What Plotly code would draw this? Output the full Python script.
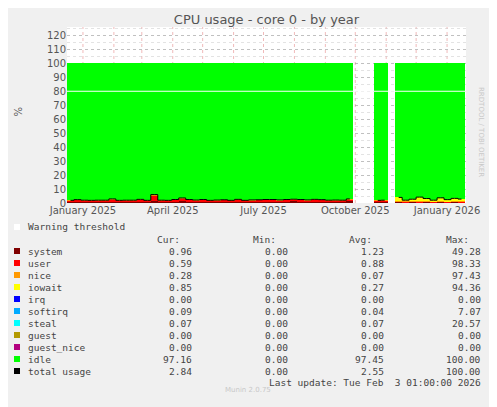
import plotly.graph_objects as go
import pandas as pd

# weekly samples (None = no data)
weeks = pd.date_range("2024-12-16", periods=57, freq="7D")
system = [1.0, 1.1, 1.0, 1.0, 1.0, 1.1, 1.0, 1.0, 1.0, 1.1, 1.0, 1.0, 1.2, 1.0, 1.0, 1.1, 1.2, 1.1, 1.0, 1.0,
          1.0, 1.1, 1.0, 1.0, 1.0, 1.0, 1.1, 1.0, 1.1, 1.0, 1.0, 1.1, 1.1, 1.0, 1.1, 1.0, 1.0, 1.0, 1.0, 1.0,
          1.1, None, None, None, 1.0, 1.0, None, 0.8, 0.7, 0.8, 0.7, 0.8, 0.7, 0.8, 0.7, 0.8, 0.7]
user = [0.8, 1.2, 0.9, 0.8, 0.9, 0.8, 1.8, 0.8, 0.9, 0.8, 1.5, 0.8, 4.5, 0.9, 0.8, 1.2, 2.0, 1.3, 1.0, 1.4,
        0.8, 0.9, 1.2, 0.8, 1.5, 0.8, 1.0, 1.2, 1.3, 1.4, 1.1, 1.3, 1.5, 1.4, 1.0, 1.5, 1.3, 0.9, 1.0, 0.9,
        1.6, None, None, None, 0.8, 0.9, None, 0.5, 0.6, 0.6, 0.5, 0.6, 0.5, 0.6, 0.5, 0.6, 0.6]
nice = [0.1, 0.1, 0.1, 0.1, 0.1, 0.1, 0.1, 0.1, 0.1, 0.1, 0.1, 0.1, 0.3, 0.1, 0.1, 0.2, 0.4, 0.1, 0.1, 0.1,
        0.1, 0.1, 0.1, 0.1, 0.1, 0.1, 0.1, 0.1, 0.1, 0.1, 0.1, 0.1, 0.1, 0.1, 0.1, 0.1, 0.1, 0.1, 0.1, 0.1,
        0.2, None, None, None, 0.1, 0.1, None, 0.2, 0.2, 0.3, 0.2, 0.3, 0.2, 0.3, 0.2, 0.3, 0.3]
iowait = [0.0, 0.0, 0.0, 0.0, 0.0, 0.0, 0.0, 0.0, 0.0, 0.0, 0.0, 0.0, 0.0, 0.0, 0.0, 0.0, 0.0, 0.0, 0.0, 0.0,
          0.0, 0.0, 0.0, 0.0, 0.0, 0.0, 0.0, 0.0, 0.0, 0.0, 0.0, 0.0, 0.0, 0.0, 0.0, 0.0, 0.0, 0.0, 0.0, 0.0,
          0.0, None, None, None, 0.0, 0.0, None, 2.5, 0.5, 1.0, 2.8, 1.5, 0.6, 2.0, 1.0, 1.6, 1.2]
total = [a + b + c + d if a is not None else None for a, b, c, d in zip(system, user, nice, iowait)]
idle = [100 - t if t is not None else None for t in total]

legend_rows = [("system", "#7f0000", "0.96", "0.00", "1.23", "49.28"),
               ("user", "#ff0000", "0.59", "0.00", "0.88", "98.33"),
               ("nice", "#ff9900", "0.28", "0.00", "0.07", "97.43"),
               ("iowait", "#ffff00", "0.85", "0.00", "0.27", "94.36"),
               ("irq", "#0000ff", "0.00", "0.00", "0.00", "0.00"),
               ("softirq", "#00aaff", "0.09", "0.00", "0.04", "7.07"),
               ("steal", "#00ffff", "0.07", "0.00", "0.07", "20.57"),
               ("guest", "#b39900", "0.00", "0.00", "0.00", "0.00"),
               ("guest_nice", "#b3007f", "0.00", "0.00", "0.00", "0.00"),
               ("idle", "#00ff00", "97.16", "0.00", "97.45", "100.00"),
               ("total usage", "#000000", "2.84", "0.00", "2.55", "100.00")]

# page body adds 8px offset, so work in reference pixels minus 8
OFF = 8
W, H = 497 - OFF, 407 - OFF
L, R, T, B = 67 - OFF, 466 - OFF, 27 - OFF, 203 - OFF
def px(x): return (x - OFF - L) / (R - L)
def py(y): return (B - (y - OFF)) / (B - T)

fig = go.Figure()
centers = weeks + pd.Timedelta(days=3.5)
wid = 7 * 86400000
for vals, col in [(system, "#7f0000"), (user, "#ff0000"), (nice, "#ff9900"), (iowait, "#ffff00"), (idle, "#00ff00")]:
    fig.add_trace(go.Bar(x=centers, y=vals, width=wid, marker=dict(color=col, line_width=0), showlegend=False))
fig.add_trace(go.Scatter(x=centers, y=total, mode="lines", line=dict(color="black", width=1, shape="hvh"),
                         connectgaps=False, showlegend=False))
fig.add_shape(type="line", xref="paper", yref="y", x0=0, x1=1, y0=80, y1=80, line=dict(color="white", width=1))

mono = "DejaVu Sans Mono"
ann = []
fs = 9.5
ann.append(dict(x=px(26), y=py(227), text="Warning threshold", xanchor="left"))
for lab, xr in [("Cur:", 182), ("Min:", 278), ("Avg:", 374), ("Max:", 471)]:
    ann.append(dict(x=px(xr), y=py(239), text=lab, xanchor="right"))
shapes = [dict(type="rect", xref="paper", yref="paper", x0=px(14), x1=px(20), y0=py(230), y1=py(224),
               fillcolor="white", line_width=0)]
for i, (name, col, c, mn, av, mx) in enumerate(legend_rows):
    yy = 251 + 12 * i
    shapes.append(dict(type="rect", xref="paper", yref="paper", x0=px(14), x1=px(20), y0=py(yy + 3), y1=py(yy - 3),
                       fillcolor=col, line_width=0))
    ann.append(dict(x=px(26), y=py(yy), text=name, xanchor="left"))
    for v, xr in [(c, 194), (mn, 290), (av, 386), (mx, 483)]:
        ann.append(dict(x=px(xr), y=py(yy), text=v, xanchor="right"))
ann.append(dict(x=px(483), y=py(383), text="Last update: Tue Feb  3 01:00:00 2026", xanchor="right"))
for a in ann:
    a.update(xref="paper", yref="paper", showarrow=False, yanchor="middle", font=dict(family=mono, size=fs, color="#444"))
ann.append(dict(xref="paper", yref="paper", x=px(248), y=py(396), text="Munin 2.0.75", showarrow=False,
                font=dict(family="DejaVu Sans", size=7, color="#c8c8c8")))
ann.append(dict(xref="paper", yref="paper", x=px(487), y=py(85), text="RRDTOOL / TOBI OETIKER", showarrow=False,
                textangle=90, font=dict(family="DejaVu Sans", size=7, color="#c8c8c8")))
ann.append(dict(xref="paper", yref="paper", x=px(10), y=py(112), text="%", showarrow=False, textangle=-90,
                font=dict(family="DejaVu Sans", size=10, color="#555")))
for s in shapes:
    fig.add_shape(**s)

fig.update_layout(
    width=W, height=H, margin=dict(l=L, r=W - R, t=T, b=H - B, autoexpand=False),
    paper_bgcolor="#f0f0f0", plot_bgcolor="white", barmode="stack", bargap=0,
    title=dict(text="CPU usage - core 0 - by year", x=0.5, xref="paper", y=1 - (19 - OFF) / H, yanchor="middle",
               font=dict(family="DejaVu Sans", size=13, color="#555")),
    annotations=ann,
)
fig.update_xaxes(range=["2024-12-16", "2026-01-20"], showgrid=False, tickmode="array",
                 tickvals=["2025-01-01", "2025-04-01", "2025-07-01", "2025-10-01", "2026-01-01"],
                 ticktext=["January 2025", "April 2025", "July 2025", "October 2025", "January 2026"],
                 tickfont=dict(family="DejaVu Sans", size=10, color="#555"), showline=False, zeroline=False, ticks="")
fig.update_yaxes(range=[0, 126], dtick=10, showgrid=True, gridcolor="rgba(150,150,150,0.6)", griddash="dot",
                 tickfont=dict(family="DejaVu Sans", size=10, color="#555"), zeroline=False,
                 minor=dict(dtick=5, showgrid=True, gridcolor="rgba(200,200,200,0.5)", griddash="dot"))
# monthly red grid lines
months = pd.date_range("2025-01-01", "2026-01-01", freq="MS")
for m in months:
    fig.add_shape(type="line", xref="x", yref="paper", x0=m, x1=m, y0=0, y1=1, layer="below",
                  line=dict(color="rgba(230,140,140,0.6)", width=1, dash="dot"))
fig.write_html("out.html")
